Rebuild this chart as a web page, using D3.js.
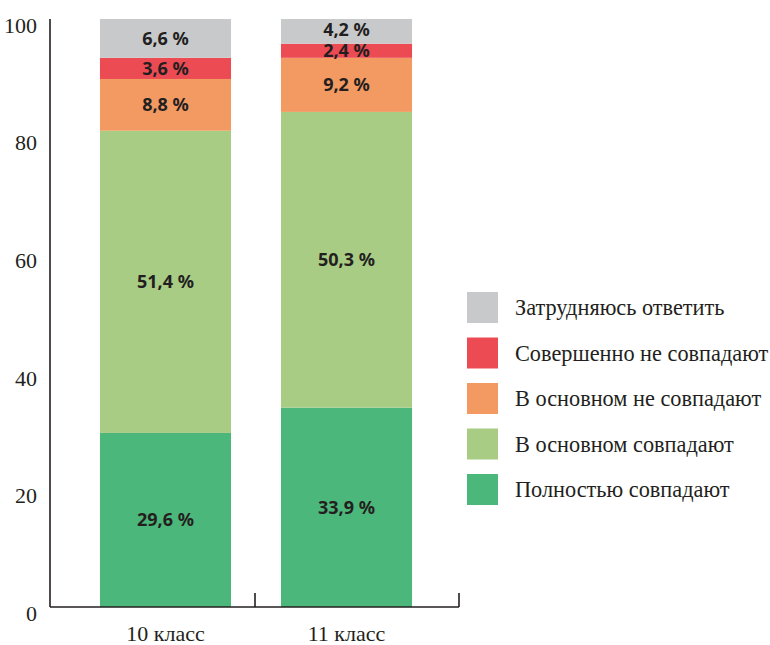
<!DOCTYPE html>
<html><head><meta charset="utf-8">
<script src="https://cdn.jsdelivr.net/npm/d3@7"></script>
<style>body{margin:0;background:#fff}</style>
</head><body>
<svg id="c" width="770" height="645"></svg>
<script>
const categories = ["10 класс", "11 класс"];
const seriesNames = ["Полностью совпадают", "В основном совпадают", "В основном не совпадают", "Совершенно не совпадают", "Затрудняюсь ответить"];
const seriesColors = ["#4cb77a", "#a9cc85", "#f39a62", "#ec4b53", "#c8c9cb"];
const values10 = [29.6, 51.4, 8.8, 3.6, 6.6];
const values11 = [33.9, 50.3, 9.2, 2.4, 4.2];
const yTicks = [0, 20, 40, 60, 80, 100];

const svg = d3.select("#c");
const ink = "#231f20";
const y = d3.scaleLinear().domain([0, 100]).range([607, 19]);
const x = d3.scaleBand().domain(categories).range([50, 462]).paddingInner(0.276).paddingOuter(0.276);

const rows = categories.map((c, i) => {
  const vals = i === 0 ? values10 : values11;
  let acc = 0;
  return vals.map((v, j) => { const s = {cat: c, v, j, y0: acc, y1: acc + v}; acc += v; return s; });
});

const g = svg.append("g");
rows.forEach(r => {
  g.selectAll(null).data(r).enter().append("rect")
    .attr("x", d => x(d.cat)).attr("width", x.bandwidth())
    .attr("y", d => y(d.y1)).attr("height", d => y(d.y0) - y(d.y1))
    .attr("fill", d => seriesColors[d.j]);
  g.selectAll(null).data(r).enter().append("text")
    .attr("x", d => x(d.cat) + x.bandwidth() / 2)
    .attr("y", d => (y(d.y0) + y(d.y1)) / 2 - (d.v < 5 && d.j === 4 ? 1.5 : 0))
    .attr("dy", "0.36em")
    .attr("text-anchor", "middle")
    .style("font-family", "'Noto Sans', sans-serif").style("font-weight", "bold").style("font-size", "18px")
    .attr("fill", ink)
    .text(d => d.v.toFixed(1).replace(".", ",") + " %");
});

// axes
svg.append("line").attr("x1", 50).attr("x2", 50).attr("y1", y(100)).attr("y2", y(0)).attr("stroke", ink).attr("stroke-width", 1.6);
svg.append("line").attr("x1", 50).attr("x2", 459).attr("y1", y(0)).attr("y2", y(0)).attr("stroke", ink).attr("stroke-width", 1.6);
const sep = [x(categories[1]) - x.step() * x.paddingInner() / 2 - 1, 459];
svg.selectAll(null).data(sep).enter().append("line")
  .attr("x1", d => d).attr("x2", d => d).attr("y1", y(0) - 14).attr("y2", y(0))
  .attr("stroke", ink).attr("stroke-width", 1.6);

svg.selectAll(null).data(yTicks).enter().append("text")
  .attr("x", 37).attr("y", d => y(d) + 6).attr("dy", "0.35em")
  .attr("text-anchor", "end")
  .style("font-family", "'Liberation Serif', serif").style("font-size", "22px")
  .attr("fill", ink).text(d => d);

svg.selectAll(null).data(categories).enter().append("text")
  .attr("x", d => x(d) + x.bandwidth() / 2).attr("y", 641)
  .attr("text-anchor", "middle")
  .style("font-family", "'Liberation Serif', serif").style("font-size", "22px")
  .attr("fill", ink).text(d => d);

// legend
const legOrder = [4, 3, 2, 1, 0];
const lg = svg.append("g");
legOrder.forEach((j, k) => {
  const yy = 292 + k * 45.5;
  lg.append("rect").attr("x", 467).attr("y", yy).attr("width", 31).attr("height", 31).attr("fill", seriesColors[j]);
  lg.append("text").attr("x", 515).attr("y", yy + 15.5).attr("dy", "0.35em")
    .style("font-family", "'Liberation Serif', serif").style("font-size", "22.3px")
    .attr("fill", ink).text(seriesNames[j]);
});
</script>
</body></html>
